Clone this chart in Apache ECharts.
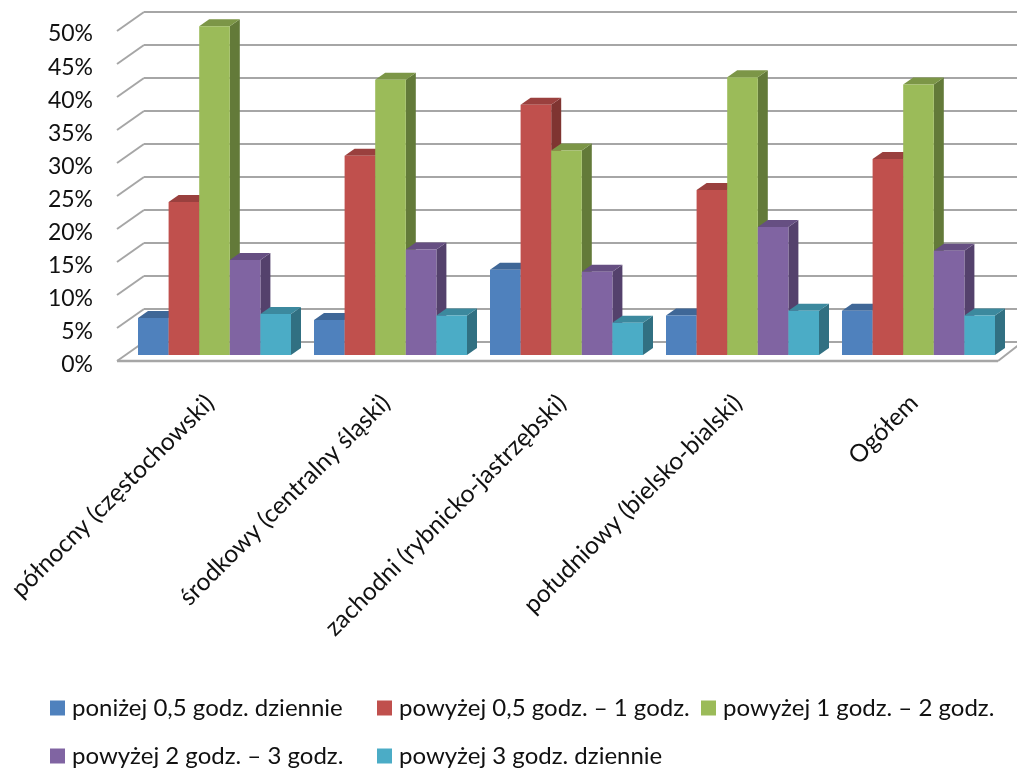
<!DOCTYPE html>
<html><head><meta charset="utf-8">
<script src="https://cdn.jsdelivr.net/npm/echarts@6/dist/echarts.min.js"></script>
<style>html,body{margin:0;padding:0;background:#fff}#c{width:1017px;height:771px}</style>
</head><body><div id="c"></div>
<script>
const categories = ['północny (częstochowski)','środkowy (centralny śląski)','zachodni (rybnicko-jastrzębski)','południowy (bielsko-bialski)','Ogółem'];
const seriesNames = ['poniżej 0,5 godz. dziennie','powyżej 0,5 godz. – 1 godz.','powyżej 1 godz. – 2 godz.','powyżej 2 godz. – 3 godz.','powyżej 3 godz. dziennie'];
const s1 = [5.6,5.3,12.9,6.0,6.7];
const s2 = [23.2,30.2,37.9,25.0,29.7];
const s3 = [49.8,41.7,31.0,42.1,41.0];
const s4 = [14.4,16.0,12.6,19.4,15.8];
const s5 = [6.2,6.0,4.9,6.7,6.0];
const yTicks = [0,5,10,15,20,25,30,35,40,45,50];
const frontColors = ['#4F81BD','#C0504D','#9BBB59','#8064A2','#4BACC6'];
const topColors = ['#3F6797','#9A403E','#7C9647','#664F82','#3C899E'];
const sideColors = ['#395D88','#7F3431','#637A39','#54416C','#317082'];
const legendPos = [[50,696],[377,696],[701,696],[50,744],[377,744]];
const all = [s1,s2,s3,s4,s5];

const BAR_W = 30.6, DX = 10, DY = -7, GRID = '#A6A6A6';

function barItem(idx){
  return function(params, api){
    const cat = api.value(0), v = api.value(1);
    const p = api.coord([cat, v]), b = api.coord([cat, 0]);
    const x0 = p[0] + (idx - 2.5) * BAR_W, x1 = x0 + BAR_W, yt = p[1], yb = b[1];
    return {type:'group', children:[
      {type:'polygon', shape:{points:[[x1,yt],[x1+DX,yt+DY],[x1+DX,yb+DY],[x1,yb]]}, style:{fill:sideColors[idx]}},
      {type:'polygon', shape:{points:[[x0,yt],[x0+DX,yt+DY],[x1+DX,yt+DY],[x1,yt]]}, style:{fill:topColors[idx]}},
      {type:'rect', shape:{x:x0,y:yt,width:BAR_W,height:yb-yt}, style:{fill:frontColors[idx]}}
    ]};
  };
}
function wallItem(params, api){
  const v = api.value(0);
  const p = api.coord([0, v]);
  const x = params.coordSys.x, y = p[1];
  const kids = [{type:'line', shape:{x1:x,y1:y,x2:x-27,y2:y+19}, style:{stroke:GRID,lineWidth:2}}];
  if (v === 0) {
    kids.push({type:'line', shape:{x1:x-27,y1:y+19,x2:998,y2:y+19}, style:{stroke:GRID,lineWidth:2.5}});
    kids.push({type:'line', shape:{x1:998,y1:y+19,x2:1020,y2:y+2}, style:{stroke:GRID,lineWidth:2}});
  }
  return {type:'group', children:kids};
}
const option = {
  animation:false,
  textStyle:{fontFamily:'Lato'},
  grid:[
    {left:144,top:12,width:900,height:330},
    {left:122,top:34,width:880,height:331},
    {left:126.5,top:25,width:880,height:330}
  ],
  xAxis:[
    {gridIndex:0,type:'category',data:categories,show:false},
    {gridIndex:1,type:'category',data:categories,
      axisLine:{show:false},axisTick:{show:false},
      axisLabel:{interval:0,rotate:45,margin:34,fontFamily:'Lato',fontSize:24.5,color:'#111'}},
    {gridIndex:2,type:'category',data:categories,show:false}
  ],
  yAxis:[
    {gridIndex:0,type:'value',min:0,max:50,interval:5,axisLabel:{show:false},axisLine:{show:false},axisTick:{show:false},
      splitLine:{show:true,lineStyle:{color:GRID,width:2}}},
    {gridIndex:1,type:'value',min:0,max:50,interval:5,axisLine:{show:false},axisTick:{show:false},splitLine:{show:false},
      axisLabel:{margin:29,formatter:'{value}%',fontFamily:'Lato',fontSize:23,color:'#111'}},
    {gridIndex:2,type:'value',min:0,max:50,interval:5,show:false,splitLine:{show:false}}
  ],
  legend: seriesNames.map((n,i)=>({
    data:[n],left:legendPos[i][0],top:legendPos[i][1],icon:'rect',itemWidth:15,itemHeight:15,itemGap:0,
    selectedMode:false,padding:0,
    textStyle:{fontFamily:'Lato',fontSize:24,color:'#111',padding:[0,0,0,2]}
  })),
  series:[
    {type:'custom',name:'frame',xAxisIndex:0,yAxisIndex:0,data:yTicks.map(v=>[v]),renderItem:wallItem,silent:true,clip:false,z:1,encode:{y:0}},
    ...seriesNames.map((n,i)=>({
      type:'custom',name:n,xAxisIndex:2,yAxisIndex:2,clip:false,z:2+i,
      itemStyle:{color:frontColors[i]},
      data:all[i].map((v,c)=>[c,v]),encode:{x:0,y:1},renderItem:barItem(i)
    }))
  ]
};
echarts.init(document.getElementById('c'),null,{renderer:'canvas'}).setOption(option);
</script></body></html>
